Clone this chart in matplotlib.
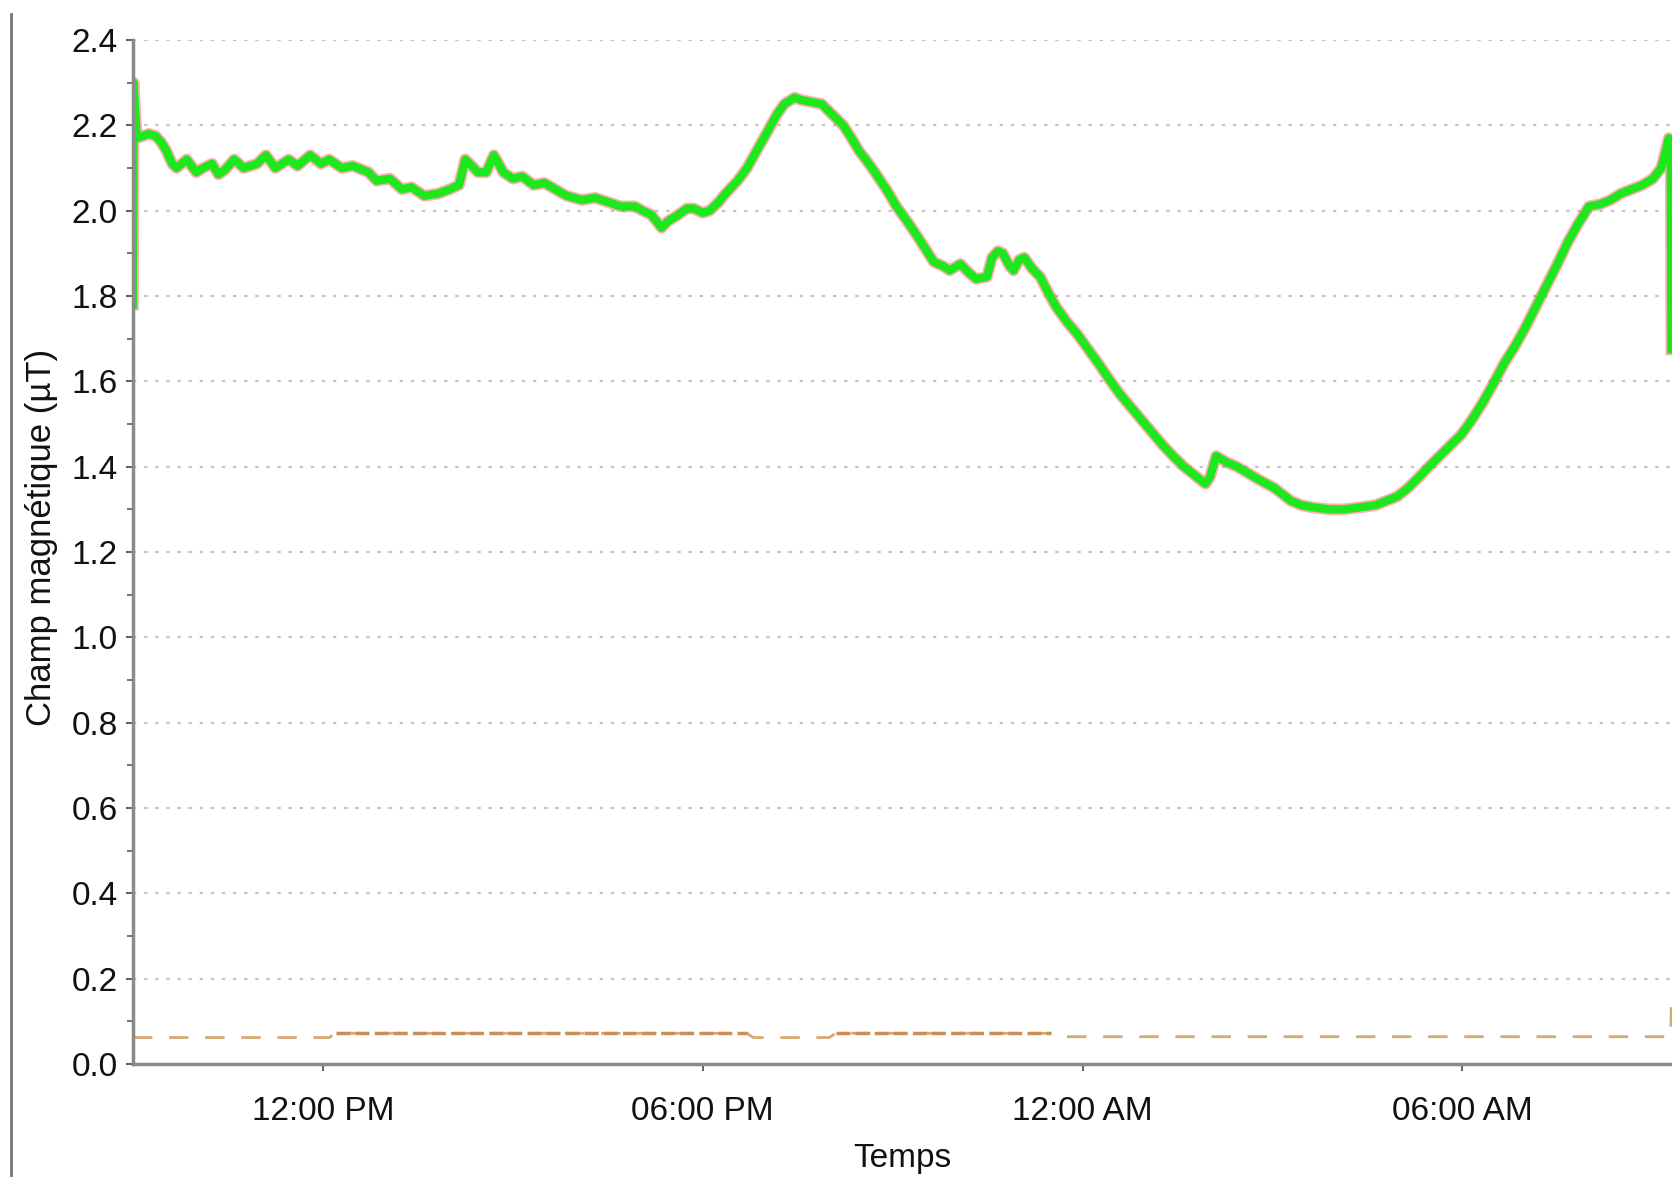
import matplotlib
matplotlib.use('Agg')
import matplotlib.pyplot as plt
import matplotlib.dates as mdates
from matplotlib.lines import Line2D
from matplotlib.ticker import MultipleLocator, FormatStrFormatter
from datetime import datetime, timedelta
import numpy as np

##-------------------------------------------------------------
# data (hours after 09:00 AM, field in uT)
green_hours = [0.00, 0.01, 0.06, 0.25, 0.36, 0.45, 0.53, 0.62, 0.69, 0.85,
               1.00, 1.11, 1.25, 1.35, 1.45, 1.60, 1.75, 1.96, 2.10, 2.25,
               2.46, 2.60, 2.80, 2.97, 3.10, 3.30, 3.47, 3.72, 3.85, 4.06,
               4.25, 4.40, 4.60, 4.82, 5.00, 5.15, 5.25, 5.32, 5.45, 5.58,
               5.70, 5.74, 5.85, 6.00, 6.15, 6.33, 6.50, 6.67, 6.85, 7.09,
               7.30, 7.51, 7.70, 7.93, 8.05, 8.19, 8.35, 8.45, 8.61, 8.75,
               8.86, 9.00, 9.11, 9.25, 9.36, 9.55, 9.70, 9.87, 10.04, 10.17,
               10.29, 10.45, 10.54, 10.70, 10.88, 11.05, 11.22, 11.35, 11.47, 11.60,
               11.72, 11.90, 12.06, 12.23, 12.39, 12.52, 12.65, 12.80, 12.90, 13.07,
               13.20, 13.32, 13.49, 13.57, 13.66, 13.74, 13.85, 13.91, 14.00, 14.08,
               14.20, 14.33, 14.45, 14.58, 14.75, 14.92, 15.09, 15.26, 15.42, 15.59,
               15.76, 15.93, 16.10, 16.27, 16.43, 16.60, 16.77, 16.94, 17.01, 17.11,
               17.28, 17.44, 17.61, 17.78, 18.03, 18.29, 18.45, 18.62, 18.90, 19.13,
               19.40, 19.63, 19.80, 19.97, 20.14, 20.31, 20.47, 20.64, 20.81, 20.98,
               21.15, 21.32, 21.49, 21.65, 21.82, 21.99, 22.16, 22.33, 22.50, 22.66,
               22.83, 23.00, 23.17, 23.34, 23.50, 23.67, 23.84, 24.01, 24.14, 24.26,
               24.29, 24.30]
green_vals = [1.78, 2.30, 2.17, 2.18, 2.175, 2.16, 2.14, 2.11, 2.10, 2.12,
              2.09, 2.10, 2.11, 2.085, 2.095, 2.12, 2.10, 2.11, 2.13, 2.10,
              2.12, 2.105, 2.13, 2.11, 2.12, 2.10, 2.105, 2.09, 2.07, 2.075,
              2.05, 2.055, 2.035, 2.04, 2.05, 2.06, 2.12, 2.11, 2.09, 2.09,
              2.13, 2.12, 2.09, 2.075, 2.08, 2.06, 2.065, 2.05, 2.035, 2.025,
              2.03, 2.02, 2.01, 2.01, 2.00, 1.99, 1.96, 1.975, 1.99, 2.005,
              2.005, 1.995, 2.00, 2.02, 2.04, 2.07, 2.10, 2.145, 2.19, 2.225,
              2.25, 2.265, 2.26, 2.255, 2.25, 2.225, 2.20, 2.17, 2.14, 2.115,
              2.09, 2.05, 2.01, 1.975, 1.94, 1.91, 1.88, 1.87, 1.86, 1.875,
              1.855, 1.84, 1.845, 1.89, 1.905, 1.90, 1.87, 1.86, 1.885, 1.89,
              1.865, 1.845, 1.81, 1.775, 1.74, 1.71, 1.675, 1.64, 1.605, 1.57,
              1.54, 1.51, 1.48, 1.45, 1.425, 1.40, 1.38, 1.36, 1.375, 1.425,
              1.41, 1.40, 1.385, 1.37, 1.35, 1.32, 1.31, 1.305, 1.30, 1.30,
              1.305, 1.31, 1.32, 1.33, 1.35, 1.375, 1.40, 1.425, 1.45, 1.475,
              1.51, 1.55, 1.595, 1.64, 1.68, 1.725, 1.775, 1.825, 1.875, 1.925,
              1.97, 2.01, 2.015, 2.025, 2.04, 2.05, 2.06, 2.075, 2.10, 2.17,
              2.13, 1.675]
# red series sits under the green one at this resolution
red_hours = green_hours
red_vals = green_vals

orange_hours = [0.00, 3.10, 3.20, 9.70, 9.80, 11.00, 11.10, 14.50, 14.60, 24.29, 24.30]
orange_vals = [0.062, 0.062, 0.072, 0.072, 0.062, 0.062, 0.072, 0.072, 0.064, 0.064, 0.14]
orange_dense = [(3.20, 9.70), (11.10, 14.50)]

y_ticks = [0.0, 0.2, 0.4, 0.6, 0.8, 1.0, 1.2, 1.4, 1.6, 1.8, 2.0, 2.2, 2.4]
##-------------------------------------------------------------

plt.rcParams['font.family'] = ['Liberation Sans', 'DejaVu Sans']

base = datetime(2012, 6, 1, 9, 0)
def to_dates(hours):
    return [base + timedelta(hours=h) for h in hours]

fig = plt.figure(figsize=(16.72, 11.77), dpi=100)
ax = fig.add_axes([0.0795, 0.096, 0.9205, 0.87])

ax.plot(to_dates(red_hours), red_vals, color='#ff3b3b', lw=8.5, alpha=0.4)
ax.plot(to_dates(green_hours), green_vals, color='#1de81d', lw=6)

oh = np.array(orange_hours)
ov = np.array(orange_vals)
ax.plot(to_dates(oh), ov, color='#d9a870', lw=2, dashes=(7, 6))
for a, b in orange_dense:
    m = (oh >= a) & (oh <= b)
    ax.plot(to_dates(oh[m]), ov[m], color='#c98f55', lw=2.5, dashes=(4, 1.5))

ax.set_ylim(0, 2.4)
ax.set_xlim(base, base + timedelta(hours=24.31))
ax.set_yticks(y_ticks)
ax.yaxis.set_minor_locator(MultipleLocator(0.1))
ax.yaxis.set_major_formatter(FormatStrFormatter('%.1f'))
ax.xaxis.set_major_locator(mdates.HourLocator(byhour=[0, 6, 12, 18]))
ax.xaxis.set_major_formatter(mdates.DateFormatter('%I:%M %p'))

ax.yaxis.grid(True, linestyle=(0, (1.5, 3.5)), color='#c4c4c4', lw=1.6)
ax.set_axisbelow(True)

for s in ['top', 'right']:
    ax.spines[s].set_visible(False)
for s in ['left', 'bottom']:
    ax.spines[s].set_color('#8a8a8a')
    ax.spines[s].set_linewidth(2.5)

ax.tick_params(axis='y', which='major', length=5, width=1.5, color='#666666',
               labelsize=24, labelcolor='#111111', pad=6)
ax.tick_params(axis='y', which='minor', length=4, width=1.3, color='#666666')
ax.tick_params(axis='x', which='major', length=5, width=1.5, color='#666666',
               labelsize=24, labelcolor='#111111', pad=18)

ax.set_xlabel('Temps', fontsize=24, color='#111111')
ax.xaxis.set_label_coords(0.5, -0.077)
ax.set_ylabel('Champ magnétique (µT)', fontsize=25, color='#111111')
ax.yaxis.set_label_coords(-0.049, 0.514)

fig.add_artist(Line2D([11/1672, 11/1672], [0, 1-14/1177], transform=fig.transFigure,
                      color='#777777', lw=2))

plt.savefig('out.png', dpi=100)
